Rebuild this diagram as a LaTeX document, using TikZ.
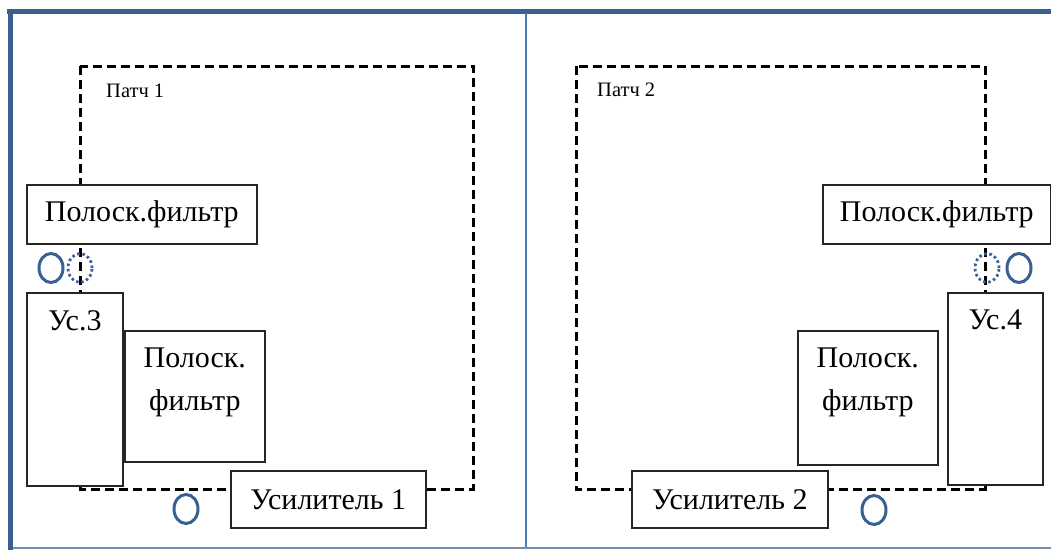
\documentclass[tikz,border=0pt]{standalone}
\usepackage{fontspec}
\setmainfont{Liberation Serif}
\usetikzlibrary{shapes.geometric}

\definecolor{frameblue}{RGB}{60,96,142}
\definecolor{midblue}{RGB}{74,126,187}
\definecolor{lowblue}{RGB}{120,140,170}
\definecolor{portblue}{RGB}{56,96,146}
\newcommand{\bigtxt}{\fontsize{30}{43}\selectfont}
\newcommand{\smalltxt}{\fontsize{20.5}{24}\selectfont}

\begin{document}
\begin{tikzpicture}[x=1pt, y=-1pt,
    box/.style={rectangle, draw=black!85, line width=1.6pt, fill=white, anchor=north west, inner sep=0pt, font=\bigtxt},
    toplabel/.style={anchor=north, inner sep=0pt, align=center, font=\bigtxt, yshift=-18pt},
    patch/.style={draw=black, line width=3pt, dash pattern=on 9pt off 5pt},
    port/.style={ellipse, draw=portblue, line width=3pt, minimum width=24pt, minimum height=29pt, inner sep=0pt},
    dotport/.style={port, line width=2.8pt, dash pattern=on 2.5pt off 2.8pt},
    tag/.style={anchor=base west, font=\smalltxt, inner sep=0pt}
]
\useasboundingbox (0,0) rectangle (1051,550);

% Frame
\draw[frameblue, line width=5pt] (7,11) -- (1051,11);
\draw[frameblue, line width=5pt] (10,8.5) -- (10,550);
\draw[lowblue, line width=2pt] (13,548) -- (1051,548);
\draw[midblue, line width=2pt] (526,13) -- (526,547);

% Patch outlines
\draw[patch] (80,66) rectangle (473,489);
\draw[patch] (576,66) rectangle (985,489);
\node[tag] (patchA) at (106,97) {Патч 1};
\node[tag] (patchB) at (597,96) {Патч 2};

% Left half
\node[box, minimum width=230pt, minimum height=59pt] (filtA) at (26,184) {Полоск.фильтр};
\node[box, minimum width=96pt, minimum height=193pt] (usA) at (26,292) {};
\node[toplabel] (usAtxt) at (usA.north) {Ус.3};
\node[box, minimum width=140pt, minimum height=131pt] (filtB) at (124,330) {};
\node[toplabel] (filtBtxt) at (filtB.north) {Полоск.\\фильтр};
\node[box, minimum width=195pt, minimum height=57pt] (ampA) at (230,470) {Усилитель 1};

% Right half
\node[box, minimum width=228pt, minimum height=59pt] (filtC) at (822,184) {Полоск.фильтр};
\node[box, minimum width=95pt, minimum height=192pt] (usB) at (947,292) {};
\node[toplabel] (usBtxt) at (usB.north) {Ус.4};
\node[box, minimum width=140pt, minimum height=134pt] (filtD) at (797,330) {};
\node[toplabel] (filtDtxt) at (filtD.north) {Полоск.\\фильтр};
\node[box, minimum width=196pt, minimum height=57pt] (ampB) at (631,470) {Усилитель 2};

% Ports
\node[port] (portA) at (51,268) {};
\node[dotport] (tapA) at (80,268) {};
\node[port] (portB) at (186,509) {};
\node[dotport] (tapB) at (987,268) {};
\node[port] (portC) at (1019,268) {};
\node[port] (portD) at (874,510) {};

\end{tikzpicture}
\end{document}
